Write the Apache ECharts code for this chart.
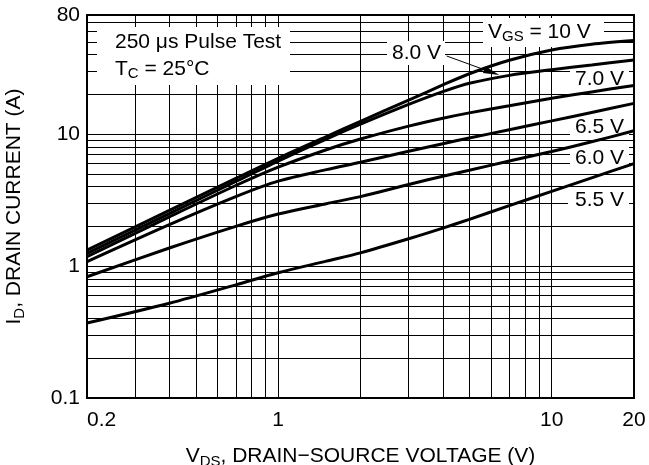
<!DOCTYPE html>
<html><head><meta charset="utf-8">
<script src="https://cdn.jsdelivr.net/npm/echarts@6/dist/echarts.min.js"></script>
<style>html,body{margin:0;padding:0;background:#fff}#c{width:649px;height:465px}</style>
</head><body><div id="c"></div>
<script>
// ---- data ----
const vds    = [0.2, 0.4, 0.7, 1, 1.5, 2, 3, 4, 5, 7, 10, 14, 20];
const id_10v = [1.32, 2.64, 4.62, 6.56, 9.57, 12.5, 18.1, 23.6, 28.7, 36.3, 43.4, 48.0, 51.2];
const id_8v  = [1.25, 2.50, 4.38, 6.25, 9.18, 11.9, 16.8, 21.0, 24.3, 27.9, 30.8, 33.4, 36.5];
const id_7v  = [1.18, 2.36, 4.08, 5.62, 7.62, 9.18, 11.5, 13.2, 14.5, 16.4, 18.7, 20.9, 23.4];
const id_65v = [1.08, 2.06, 3.36, 4.40, 5.38, 6.12, 7.41, 8.46, 9.35, 10.8, 12.6, 14.6, 17.1];
const id_6v  = [0.83, 1.37, 2.00, 2.48, 2.97, 3.36, 4.15, 4.80, 5.33, 6.25, 7.39, 8.75, 10.6];
const id_55v = [0.37, 0.523, 0.72, 0.89, 1.09, 1.26, 1.61, 1.94, 2.26, 2.87, 3.68, 4.66, 5.98];
const seriesNames = ['10 V', '8.0 V', '7.0 V', '6.5 V', '6.0 V', '5.5 V'];
const xTickLabels = ['0.2', '1', '10', '20'];
const yTickLabels = ['0.1', '1', '10', '80'];
const xGridValues = [0.3, 0.4, 0.5, 0.6, 0.7, 0.8, 0.9, 1, 2, 3, 4, 5, 6, 7, 8, 9, 10];
const yGridValues = [0.2, 0.3, 0.4, 0.5, 0.6, 0.7, 0.8, 0.9, 1, 2, 3, 4, 5, 6, 7, 8, 9, 10, 20, 30, 40, 50, 60, 70];

// ---- styling ----
const FONT = '"Liberation Sans", Arial, Helvetica, sans-serif';
const chart = echarts.init(document.getElementById('c'), null, { renderer: 'canvas' });

function pickLabel(v, labels) {
  for (const l of labels) {
    if (Math.abs(Math.log10(v) - Math.log10(parseFloat(l))) < 0.01) return l;
  }
  return '';
}
const allCurves = [id_10v, id_8v, id_7v, id_65v, id_6v, id_55v];
const curveSeries = allCurves.map((arr, i) => ({
  name: seriesNames[i],
  type: 'line',
  data: vds.map((x, k) => [x, arr[k]]),
  smooth: 0.3,
  symbol: 'none',
  z: 10,
  lineStyle: { color: '#000', width: 3 },
  silent: true,
  animation: false
}));

const subRich = {
  n: { fontSize: 21, fontFamily: FONT, color: '#000' },
  s: { fontSize: 15, fontFamily: FONT, color: '#000', padding: [10, 0, 0, 0] }
};
const nameRich = {
  n: { fontSize: 21, fontFamily: FONT, color: '#000' },
  s: { fontSize: 15, fontFamily: FONT, color: '#000', padding: [10, 0, 0, 0] }
};

function box(x, y, w, h) {
  return { type: 'rect', z: 3, shape: { x, y, width: w, height: h }, style: { fill: '#fff' }, silent: true };
}
function txt(x, y, text) {
  return { type: 'text', z: 4, x, y, silent: true,
    style: { text, rich: subRich, fontSize: 21, fontFamily: FONT, fill: '#000', align: 'left', verticalAlign: 'middle' } };
}

chart.setOption({
  animation: false,
  backgroundColor: '#fff',
  grid: { left: 87, right: 15, top: 15, bottom: 67, containLabel: false, outerBoundsMode: 'none',
    show: true, borderColor: '#000', borderWidth: 2, backgroundColor: 'transparent' },
  xAxis: {
    type: 'log', logBase: 10, min: 0.2, max: 20,
    axisLine: { show: false }, axisTick: { show: false }, splitLine: { show: false },
    axisLabel: { fontSize: 21, fontFamily: FONT, color: '#000', margin: 12, alignMinLabel: 'left',
      formatter: v => pickLabel(v, xTickLabels) },
    name: '{n|V}{s|DS}{n|, DRAIN\u2212SOURCE VOLTAGE (V)}',
    nameLocation: 'middle', nameGap: 46,
    nameTextStyle: { rich: nameRich }
  },
  yAxis: {
    type: 'log', logBase: 10, min: 0.1, max: 80,
    axisLine: { show: false }, axisTick: { show: false }, splitLine: { show: false },
    axisLabel: { fontSize: 21, fontFamily: FONT, color: '#000', margin: 7,
      formatter: v => pickLabel(v, yTickLabels) },
    name: '{n|I}{s|D}{n|, DRAIN CURRENT (A)}',
    nameLocation: 'middle', nameGap: 60, nameRotate: 90,
    nameTextStyle: { rich: nameRich }
  },
  series: [
    {
      type: 'line', data: [], z: 1, silent: true,
      markLine: {
        z: 1, silent: true, symbol: ['none', 'none'], animation: false,
        label: { show: false },
        emphasis: { disabled: true },
        lineStyle: { color: '#000', width: 1, type: 'solid', opacity: 1 },
        data: [...xGridValues.map(v => ({ xAxis: v })), ...yGridValues.map(v => ({ yAxis: v }))]
      }
    },
    ...curveSeries
  ],
  graphic: {
    elements: [
      box(97, 27, 193, 58),
      box(483, 18, 121, 29),
      box(387, 41, 58, 24),
      box(570, 68, 59, 22),
      box(570, 116, 59, 22),
      box(570, 147, 59, 22),
      box(568, 189, 61, 22),
      txt(115, 42, '{n|250 \u03bcs Pulse Test}'),
      txt(115, 69, '{n|T}{s|C}{n| = 25\u00b0C}'),
      txt(488, 32, '{n|V}{s|GS}{n| = 10 V}'),
      txt(392, 53, '{n|8.0 V}'),
      txt(575, 79, '{n|7.0 V}'),
      txt(575, 127, '{n|6.5 V}'),
      txt(575, 158, '{n|6.0 V}'),
      txt(575, 200, '{n|5.5 V}'),
      { type: 'line', z: 5, silent: true, shape: { x1: 446.7, y1: 56, x2: 486, y2: 70.3 }, style: { stroke: '#000', lineWidth: 1 } },
      { type: 'polygon', z: 5, silent: true, shape: { points: [[499.3, 75], [483.0, 72.9], [485.4, 66.3]] }, style: { fill: '#000' } }
    ]
  }
});
</script></body></html>
